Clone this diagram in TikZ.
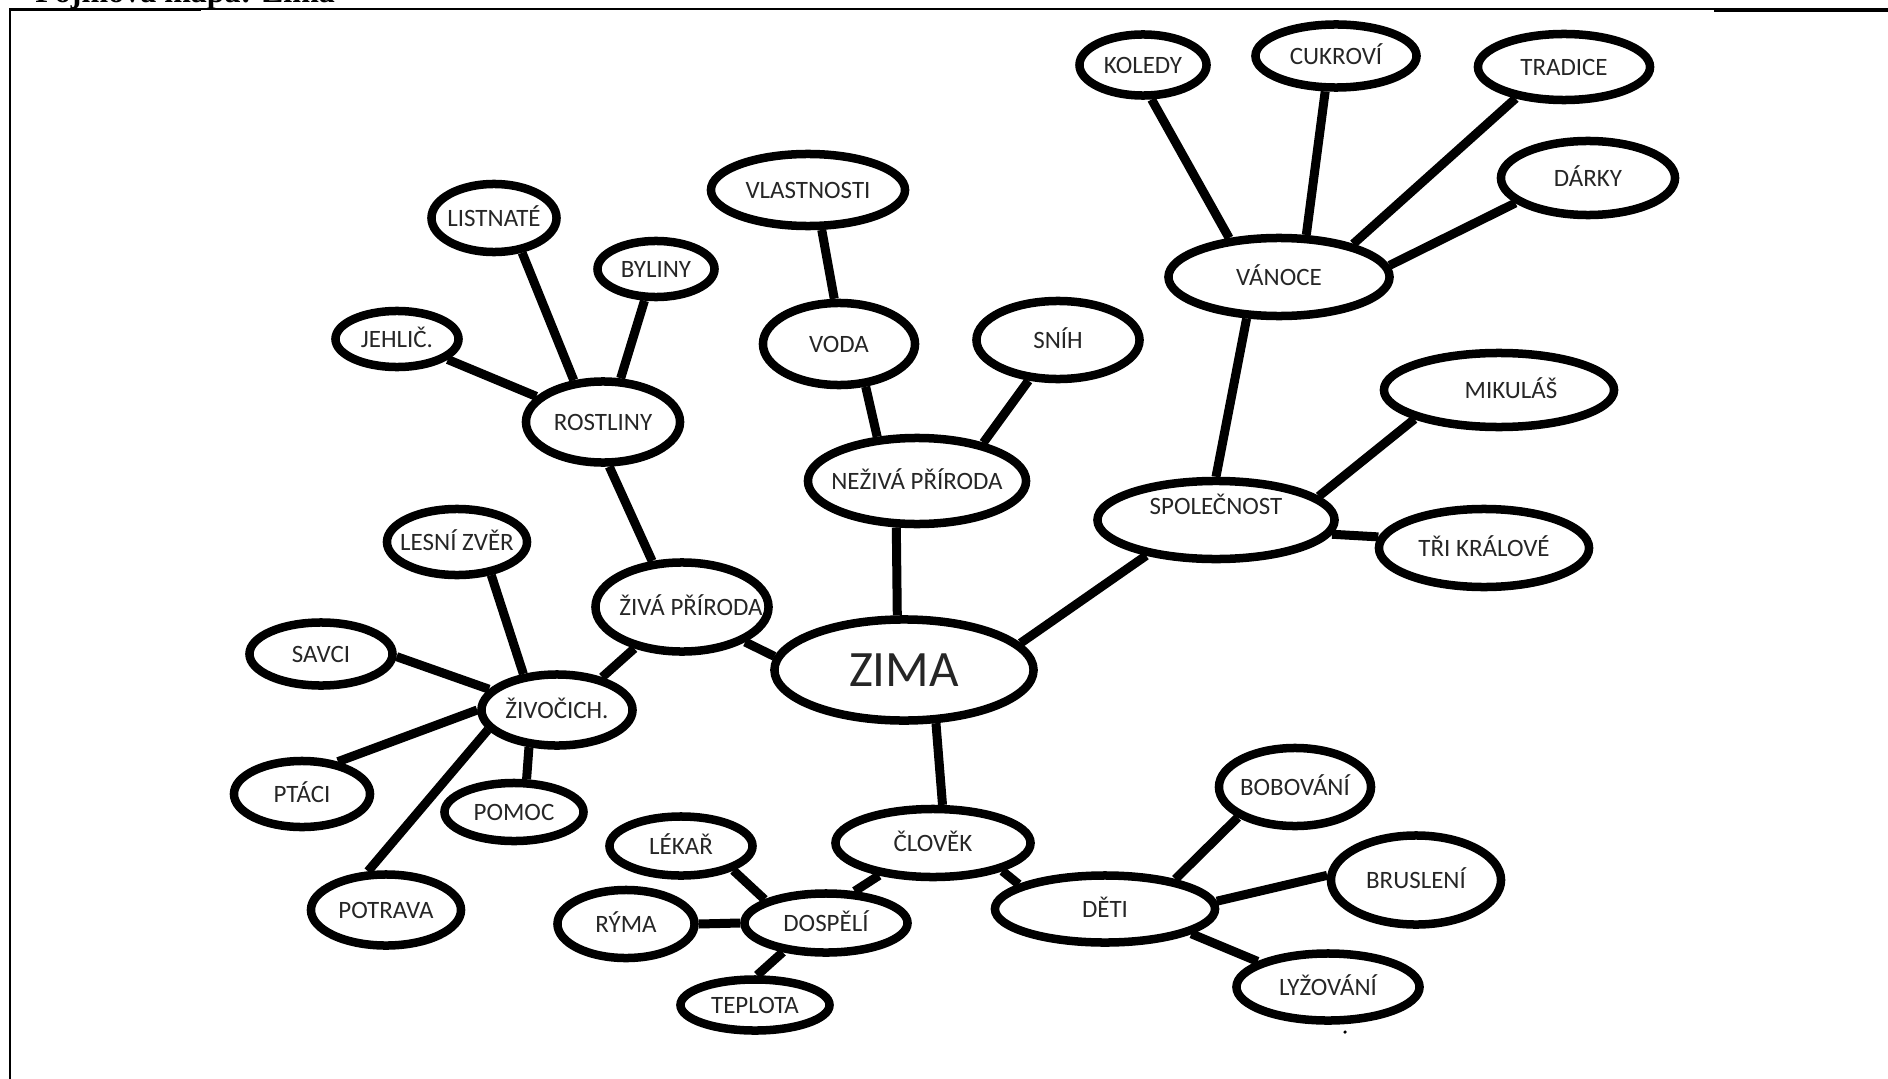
\documentclass[tikz,border=0pt]{standalone}
\usepackage{fontspec}
\setmainfont{Carlito}
\newfontfamily\headfont{Liberation Serif}
\usetikzlibrary{shapes.geometric}

\tikzset{
  bubble/.style={ellipse, draw, line width=0.085cm, inner xsep=-0.6cm, inner ysep=0pt,
    text=black!85, font=\fontsize{7.1}{8}\selectfont, text height=0.161cm, text depth=0cm},
  link/.style={line width=0.09cm},
}

\begin{document}
\begin{tikzpicture}[x=0.01cm, y=-0.01cm]
	\useasboundingbox (0,0) rectangle (1888,1079);
	% ramecek a nadpis
	\draw[line width=0.02cm] (10,1079) -- (10,9.5) -- (1888,9.5);
	\draw[line width=0.03cm] (9,10) -- (201,10);
	\draw[line width=0.03cm] (1714,10.5) -- (1888,10.5);
	\node[anchor=base west, font=\headfont\bfseries\fontsize{9.1}{11}\selectfont] (nadpis) at (23,3) {Pojmová mapa: Zima};

	% stred
	\node[bubble, minimum width=2.59cm, minimum height=1.01cm, font=\fontsize{14.5}{16}\selectfont, text height=0.32cm] (zima) at (904,670) {ZIMA};

	% ziva priroda
	\node[bubble, minimum width=1.73cm, minimum height=0.89cm] (ziva) at (682,607) {\hspace*{0.18cm}ŽIVÁ PŘÍRODA};
	\node[bubble, minimum width=1.54cm, minimum height=0.81cm] (rostliny) at (603,422) {ROSTLINY};
	\node[bubble, minimum width=1.23cm, minimum height=0.56cm] (jehlic) at (397,339) {JEHLIČ.};
	\node[bubble, minimum width=1.25cm, minimum height=0.68cm] (listnate) at (494,218) {LISTNATÉ};
	\node[bubble, minimum width=1.17cm, minimum height=0.56cm] (byliny) at (656,269) {BYLINY};
	\node[bubble, minimum width=1.51cm, minimum height=0.71cm] (zivocich) at (557,710) {ŽIVOČICH.};
	\node[bubble, minimum width=1.40cm, minimum height=0.66cm] (lesni) at (457,542) {LESNÍ ZVĚR};
	\node[bubble, minimum width=1.43cm, minimum height=0.63cm] (savci) at (321,654) {SAVCI};
	\node[bubble, minimum width=1.36cm, minimum height=0.66cm] (ptaci) at (302,794) {PTÁCI};
	\node[bubble, minimum width=1.39cm, minimum height=0.58cm] (pomoc) at (514,812) {POMOC};
	\node[bubble, minimum width=1.50cm, minimum height=0.71cm] (potrava) at (386,910) {POTRAVA};

	% neziva priroda
	\node[bubble, minimum width=2.18cm, minimum height=0.86cm] (neziva) at (917,481) {NEŽIVÁ PŘÍRODA};
	\node[bubble, minimum width=1.52cm, minimum height=0.82cm] (voda) at (839,344) {VODA};
	\node[bubble, minimum width=1.94cm, minimum height=0.72cm] (vlastnosti) at (808,190) {VLASTNOSTI};
	\node[bubble, minimum width=1.63cm, minimum height=0.78cm] (snih) at (1058,340) {SNÍH};

	% spolecnost
	\node[bubble, minimum width=2.37cm, minimum height=0.78cm, text depth=0.28cm] (spolecnost) at (1216,520) {SPOLEČNOST};
	\node[bubble, minimum width=2.21cm, minimum height=0.78cm] (vanoce) at (1279,277) {VÁNOCE};
	\node[bubble, minimum width=1.27cm, minimum height=0.61cm] (koledy) at (1143,65) {KOLEDY};
	\node[bubble, minimum width=1.61cm, minimum height=0.63cm] (cukrovi) at (1336,56) {CUKROVÍ};
	\node[bubble, minimum width=1.72cm, minimum height=0.66cm] (tradice) at (1564,67) {TRADICE};
	\node[bubble, minimum width=1.74cm, minimum height=0.74cm] (darky) at (1588,178) {DÁRKY};
	\node[bubble, minimum width=2.30cm, minimum height=0.74cm] (mikulas) at (1499,390) {\hspace*{0.24cm}MIKULÁŠ};
	\node[bubble, minimum width=2.10cm, minimum height=0.78cm] (trikralove) at (1484,548) {TŘI KRÁLOVÉ};

	% clovek
	\node[bubble, minimum width=1.95cm, minimum height=0.68cm] (clovek) at (933,843) {ČLOVĚK};
	\node[bubble, minimum width=1.63cm, minimum height=0.59cm] (dospeli) at (826,923) {DOSPĚLÍ};
	\node[bubble, minimum width=1.43cm, minimum height=0.59cm] (lekar) at (681,846) {LÉKAŘ};
	\node[bubble, minimum width=1.37cm, minimum height=0.68cm] (ryma) at (626,924) {RÝMA};
	\node[bubble, minimum width=1.49cm, minimum height=0.51cm] (teplota) at (755,1005) {TEPLOTA};
	\node[bubble, minimum width=2.20cm, minimum height=0.67cm] (deti) at (1105,909) {DĚTI};
	\node[bubble, minimum width=1.52cm, minimum height=0.78cm] (bobovani) at (1295,787) {BOBOVÁNÍ};
	\node[bubble, minimum width=1.70cm, minimum height=0.89cm] (brusleni) at (1416,880) {BRUSLENÍ};
	\node[bubble, minimum width=1.83cm, minimum height=0.67cm] (lyzovani) at (1328,987) {LYŽOVÁNÍ};

	% spojnice
	\draw[link] (zima.174) -- (ziva.331);
	\draw[link] (zima.97) -- (neziva.246);
	\draw[link] (zima.13) -- (spolecnost.207);
	\draw[link] (zima.301) -- (clovek.76);
	\draw[link] (ziva.123) -- (rostliny.278);
	\draw[link] (ziva.221) -- (zivocich.36);
	\draw[link] (rostliny.159) -- (jehlic.338);
	\draw[link] (rostliny.125) -- (listnate.309);
	\draw[link] (rostliny.68) -- (byliny.250);
	\draw[link] (zivocich.133) -- (lesni.316);
	\draw[link] (zivocich.163) -- (savci.358);
	\draw[link] (zivocich.180) -- (ptaci.42);
	\draw[link] (zivocich.233) -- (pomoc.69);
	\draw[link] (zivocich.196) -- (potrava.115);
	\draw[link] (neziva.132) -- (voda.302);
	\draw[link] (neziva.30) -- (snih.234);
	\draw[link] (voda.96) -- (vlastnosti.289);
	\draw[link] (spolecnost.90) -- (vanoce.232);
	\draw[link] (spolecnost.13) -- (mikulas.199);
	\draw[link] (spolecnost.353) -- (trikralove.174);
	\draw[link] (vanoce.142) -- (koledy.284);
	\draw[link] (vanoce.57) -- (cukrovi.253);
	\draw[link] (vanoce.24) -- (tradice.213);
	\draw[link] (vanoce.6) -- (darky.199);
	\draw[link] (clovek.211) -- (dospeli.48);
	\draw[link] (clovek.338) -- (deti.164);
	\draw[link] (dospeli.159) -- (lekar.335);
	\draw[link] (dospeli.180) -- (ryma.0);
	\draw[link] (dospeli.214) -- (teplota.86);
	\draw[link] (deti.23) -- (bobovani.208);
	\draw[link] (deti.4) -- (brusleni.177);
	\draw[link] (deti.344) -- (lyzovani.160);

	\fill (1345,1032) circle[radius=0.5pt];
\end{tikzpicture}
\end{document}
